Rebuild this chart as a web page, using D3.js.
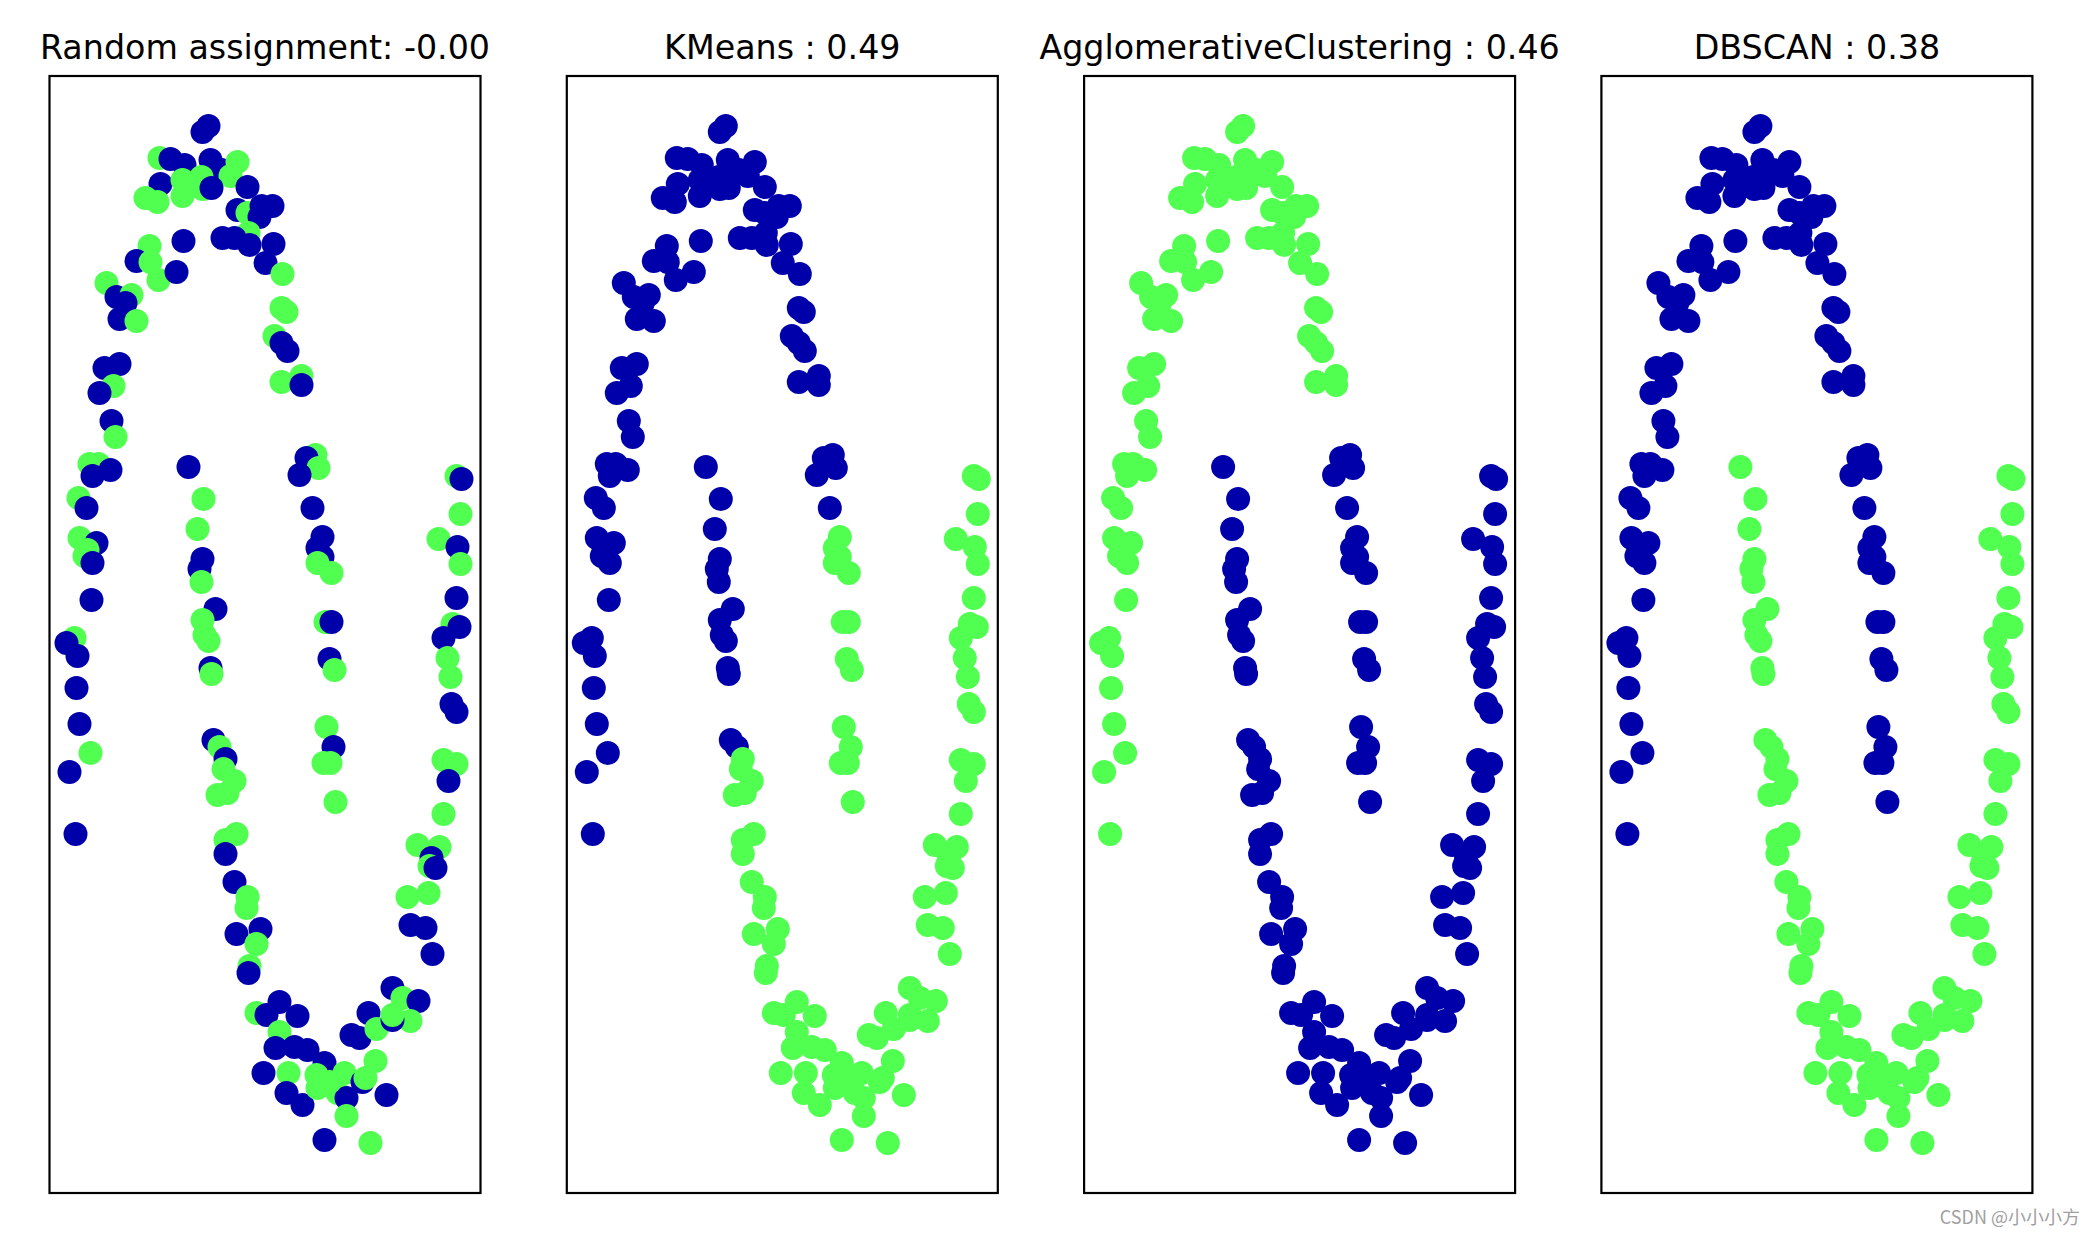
<!DOCTYPE html>
<html><head><meta charset="utf-8">
<script src="https://cdn.jsdelivr.net/npm/d3@7"></script>
<style>html,body{margin:0;padding:0;background:#fff;}</style>
</head><body>
<svg id="chart" width="2095" height="1236"></svg>
<script>
// Panel titles
const titles = ["Random assignment: -0.00", "KMeans : 0.49", "AgglomerativeClustering : 0.46", "DBSCAN : 0.38"];
// Scaled two-moons data (x to the right, y downward in reference units)
const xs = [
 // outer moon top / arch (50)
 159,153,110,121,135,161,172,188,181,198, 111,133,152,153,162,96,108,133,188,198,
 210,212,223,199,173,185,200,224,216,233, 100,134,87,101,109,127,57,67,82,76,
 70,87,232,237,225,232,238,232,252,252,
 // outer moon left arm (26)
 55,70,64,50,62,66,40,49,61,43, 29,37,30,47,38,35,43,42,25,17, 28,27,30,41,20,26,
 // inner moon left arm, upper (14)
 139,154,148,153,150,152,166,153,155,159, 161,162,164,170,
 // outer moon right arm, upper (5)
 266,257,269,250,263,
 // outer moon right arm, lower (14)
 273,268,273,268,282,276,282,280,285,277, 284,274,281,286,
 // inner moon right arm (28)
 407,412,411,389,408,411,407,403,410,394, 398,401,402,407,394,407,399,394,368,390,
 382,380,386,358,379,361,376,383,
 // inner moon left arm, lower (14)
 176,174,185,168,178,187,176,176,185,198, 197,211,187,207,
 // inner moon bottom (38)
 200,199,207,217,230,248,230,226,245,258, 275,214,239,237,253,267,268,295,288,297,
 297,313,316,326,337,275,321,302,310,319, 327,343,353,369,361,343,343,280
];
const ys = [
 50,56,82,83,89,84,94,86,100,111, 108,104,101,113,112,122,126,120,134,137,
 141,130,130,157,162,162,169,168,187,198, 170,165,185,186,204,196,207,221,219,227,
 243,245,232,236,260,267,275,306,300,309,
 292,288,310,317,345,361,388,388,394,400, 422,432,462,467,474,480,487,524,562,567, 580,612,648,677,696,758,
 391,423,453,483,493,506,533,544,559,565, 592,598,664,671,
 379,382,392,399,432,
 461,472,481,487,497,546,546,583,594,651, 671,687,687,726,
 400,403,438,463,471,488,522,548,551,562, 582,601,628,636,684,688,705,738,769,771,
 782,790,792,821,817,849,852,878,
 683,693,705,719,717,758,764,778,806,821, 832,853,858,868,
 890,897,937,939,926,940,956,972,971,974, 987,997,997,1017,1029,999,1012,997,1017,1022,
 1040,1006,1002,985,1019,1064,1067,959,962,937, 953,912,922,925,945,944,939,1006
];
// Cluster labels per panel (0 = dark blue, 1 = green), same order as the points
const randomLabels = "0010000110 0111011101 0001000001 1001101010 0111100110" +
 "0010011100 1010110010 000100" + "0110010111 0101" + "10100" + "0001110011 0111" +
 "1011010100 1100110111 01011000" + "0111111001 1001" +
 "1010001000 0010011110 1011001000 10101011";
const kmeansLabels = "0000000000 0000000000 0000000000 0000000000 0000000000" +
 "0000000000 0000000000 000000" + "0000000000 0000" + "00000" + "1111111111 1111" +
 "1111111111 1111111111 11111111" + "1111111111 1111" +
 "1111111111 1111111111 1111111111 11111111";
const aggloLabels = "1111111111 1111111111 1111111111 1111111111 1111111111" +
 "1111111111 1111111111 111111" + "0000000000 0000" + "00000" + "0000000000 0000" +
 "0000000000 0000000000 00000000" + "0000000000 0000" +
 "0000000000 0000000000 0000000000 00000000";
const dbscanLabels = "0000000000 0000000000 0000000000 0000000000 0000000000" +
 "0000000000 0000000000 000000" + "1111111111 1111" + "00000" + "0000000000 0000" +
 "1111111111 1111111111 11111111" + "1111111111 1111" +
 "1111111111 1111111111 1111111111 11111111";
const clusterColors = ["#0000aa", "#50ff50"];

const parse = s => s.replace(/\s/g, "").split("").map(Number);
const labelSets = [randomLabels, kmeansLabels, aggloLabels, dbscanLabels].map(parse);

const svg = d3.select("#chart");
svg.append("rect").attr("width", 2095).attr("height", 1236).attr("fill", "#fff");

const panelLefts = [49.5, 566.8, 1084.1, 1601.4];
const panelW = 431, panelTop = 76, panelH = 1117;

panelLefts.forEach((left, i) => {
  const x = d3.scaleLinear().domain([0, 431]).range([left, left + panelW]);
  const y = d3.scaleLinear().domain([0, 1117]).range([panelTop, panelTop + panelH]);
  const g = svg.append("g");
  const labels = labelSets[i];
  const pts = xs.map((v, k) => ({x: v, y: ys[k], c: labels[k] || 0}));
  g.append("clipPath").attr("id", "clip" + i).append("rect")
    .attr("x", left).attr("y", panelTop).attr("width", panelW).attr("height", panelH);
  g.append("g").attr("clip-path", `url(#clip${i})`).selectAll("circle").data(pts).join("circle")
    .attr("cx", d => x(d.x)).attr("cy", d => y(d.y)).attr("r", 12)
    .attr("fill", d => clusterColors[d.c]);
  g.append("rect").attr("x", left).attr("y", panelTop).attr("width", panelW).attr("height", panelH)
    .attr("fill", "none").attr("stroke", "#000").attr("stroke-width", 2.2);
  g.append("text").attr("x", left + panelW / 2).attr("y", 59)
    .attr("text-anchor", "middle").attr("font-family", "DejaVu Sans")
    .attr("font-size", 33.3).attr("fill", "#000").text(titles[i]);
});

svg.append("text").attr("x", 2080).attr("y", 1224).attr("text-anchor", "end")
  .attr("font-family", "'Noto Sans CJK SC', 'DejaVu Sans', sans-serif").attr("font-size", 18)
  .attr("fill", "#a0a0a0").text("CSDN @小小小方");
</script>
</body></html>
